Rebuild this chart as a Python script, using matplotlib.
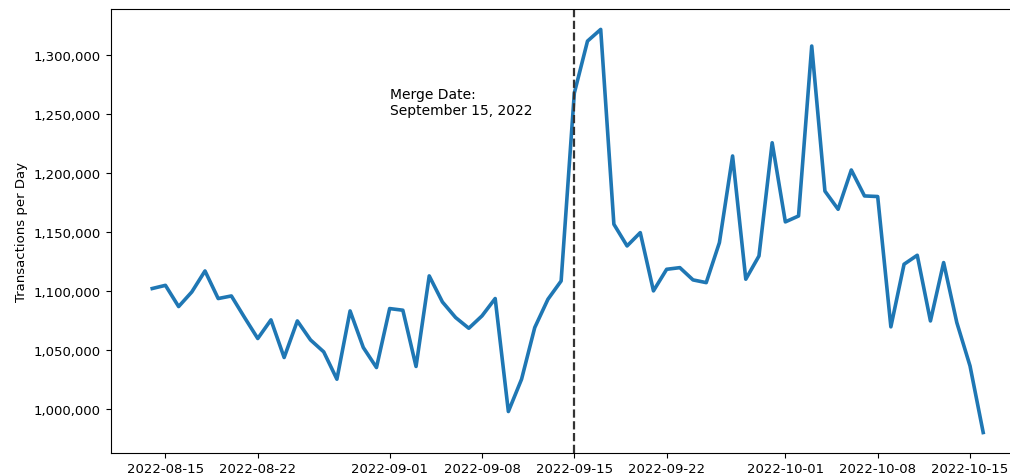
import datetime as dt
import numpy as np
import matplotlib
matplotlib.use('Agg')
import matplotlib.pyplot as plt
import matplotlib.dates as mdates
import matplotlib.ticker as mticker


# ----------------------------------------------------------------------
# Daily transaction counts
# ----------------------------------------------------------------------

start_date = dt.date(2022, 8, 14)

tx_per_day = [
    1102300, 1105000, 1087000, 1099400, 1117200, 1093800, 1096000, 1077700,
    1059900, 1075700, 1043800, 1074800, 1058700, 1048600, 1025400, 1083300,
    1052300, 1035300, 1085300, 1083900, 1036200, 1113000, 1090900, 1077700,
    1068600, 1079100, 1093800, 998000, 1025400, 1069200, 1093200, 1108700,
    1268000, 1312100, 1322000, 1156800, 1138400, 1149700, 1100300, 1118600,
    1120000, 1109600, 1107300, 1141200, 1214700, 1110200, 1129900, 1225900,
    1158800, 1163800, 1307900, 1184900, 1169500, 1202800, 1180800, 1180300,
    1069800, 1122900, 1130500, 1074800, 1124300, 1073400, 1036700, 980200,
]

dates = [start_date + dt.timedelta(days=i) for i in range(len(tx_per_day))]

merge_date = dt.date(2022, 9, 15)
label_date = dt.date(2022, 9, 1)
label_value = 1250000
label_text = 'Merge Date:\nSeptember 15, 2022'


# ----------------------------------------------------------------------
# Plot
# ----------------------------------------------------------------------

plt.rcParams['font.size'] = 9.5

fig = plt.figure(figsize=(10.1, 4.77), dpi=100)
# the original figure is cropped on the right, so the axes run past the edge
ax = fig.add_axes([0.1096, 0.0489, 0.905, 0.9296])

ax.plot(dates, tx_per_day, color='#1f77b4', linewidth=2.6)
ax.axvline(merge_date, color='#333333', linestyle='--', linewidth=1.6)
ax.text(label_date, label_value, label_text, fontsize=10)

ax.xaxis.set_major_locator(mdates.DayLocator(bymonthday=[1, 8, 15, 22]))
ax.xaxis.set_major_formatter(mdates.DateFormatter('%Y-%m-%d'))
ax.yaxis.set_major_formatter(mticker.StrMethodFormatter('{x:,.0f}'))
ax.set_ylabel('Transactions per Day')

plt.savefig('out.png', dpi=100)
plt.close()
